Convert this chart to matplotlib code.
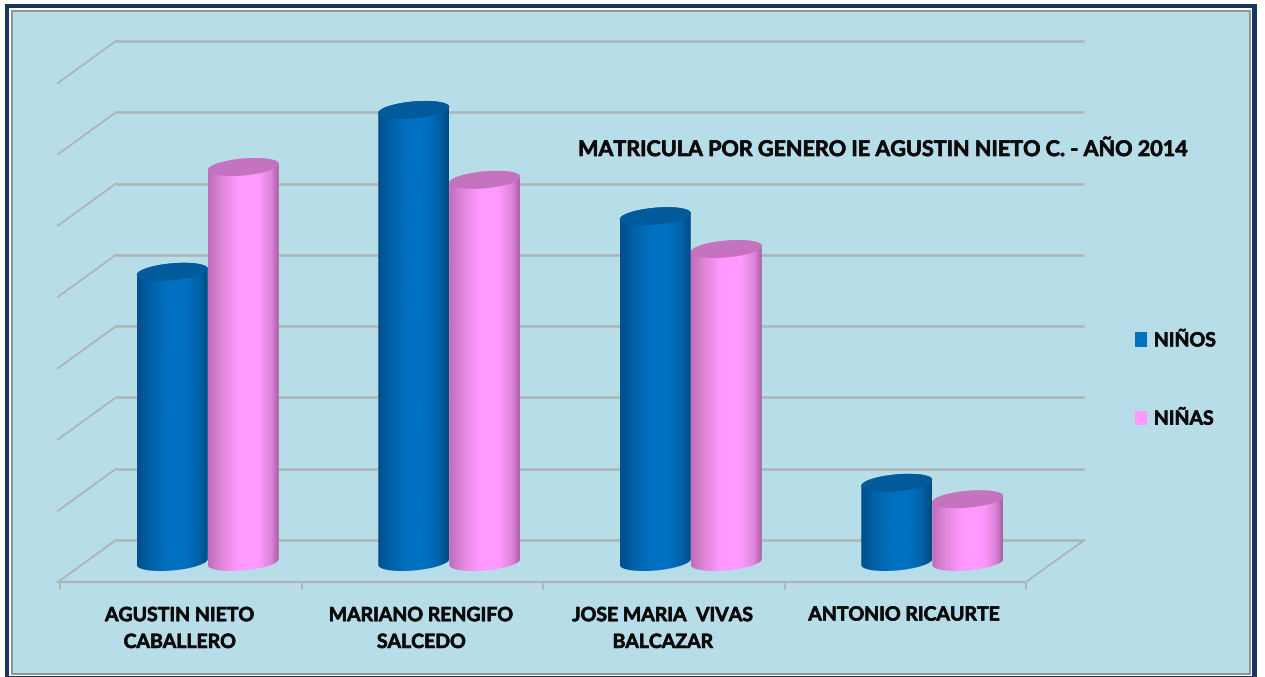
import numpy as np
import matplotlib
matplotlib.use('Agg')
import matplotlib.pyplot as plt
import matplotlib.patheffects as pe
from matplotlib.colors import LinearSegmentedColormap
from matplotlib.patches import Patch, Polygon, Rectangle

categories = ['AGUSTIN NIETO\nCABALLERO', 'MARIANO RENGIFO\nSALCEDO',
              'JOSE MARIA  VIVAS\nBALCAZAR', 'ANTONIO RICAURTE']
ninos = [407, 634, 485, 111]
ninas = [554, 536, 439, 88]
grid_values = [0, 100, 200, 300, 400, 500, 600, 700]

title = 'MATRICULA POR GENERO IE AGUSTIN NIETO C. - AÑO 2014'
FONT = 'Lato'
INK = '#0a0a0a'
BG = '#b7dde8'
GRID = '#aeb4b7'

# escala: 241.5 px por categoria, 0.713 px por unidad
SX = 241.5
SY = 0.713
BAR_W = 71 / SX
BAR_SHIFT = 0.112
BACK_Y = 22 / SY      # piso del fondo respecto a la base de los cilindros
FRONT_Y = -20 / SY    # piso del frente
DEPTH_X = 56 / SX
BOLD = [pe.withStroke(linewidth=0.5, foreground=INK)]


def cylinder(ax, cx, value, cmap, top_color):
    a = BAR_W / 2
    b = 8.5 / SY
    tilt = 3 / SY
    t = np.linspace(0, np.pi, 60)
    xs = cx + a * np.cos(t)
    top = value + b * np.sin(t) + tilt * np.cos(t)
    bottom = -b * np.sin(t) + tilt * np.cos(t)
    body = np.column_stack([np.r_[xs, xs[::-1]], np.r_[top, bottom[::-1]]])
    im = ax.imshow(np.linspace(0, 1, 128).reshape(1, -1), cmap=cmap, aspect='auto',
                   extent=(cx - a, cx + a, -b - tilt, value + b + tilt), zorder=3)
    im.set_clip_path(Polygon(body, closed=True, transform=ax.transData))
    t2 = np.linspace(0, 2 * np.pi, 120)
    cap = np.column_stack([cx + a * np.cos(t2), value + b * np.sin(t2) + tilt * np.cos(t2)])
    ax.add_patch(Polygon(cap, closed=True, fc=top_color, ec='none', zorder=3))


fig = plt.figure(figsize=(12.65, 6.77), dpi=100, facecolor='white')

# marco exterior en pixeles
frame = fig.add_axes([0, 0, 1, 1], zorder=0)
frame.set_xlim(0, 1265)
frame.set_ylim(677, 0)
frame.axis('off')
frame.add_patch(Rectangle((5, 4), 1252, 680, fc='#17375e', ec='none'))
frame.add_patch(Rectangle((9, 8), 1243, 668, fc='white', ec='none'))
frame.add_patch(Rectangle((11.5, 10.5), 1238.5, 663, fc=BG, ec='#8c8c8c', lw=1.3))

ax = fig.add_axes([0, 0, 1, 1], zorder=1)
ax.patch.set_alpha(0)
ax.axis('off')

blue_map = LinearSegmentedColormap.from_list(
    'blue', [(0, '#004f8c'), (0.2, '#0062a8'), (0.42, '#0070c0'), (0.68, '#0070c0'),
             (0.88, '#0060a4'), (1, '#004a80')])
pink_map = LinearSegmentedColormap.from_list(
    'pink', [(0, '#c06cba'), (0.2, '#e288dc'), (0.42, '#ff99ff'), (0.72, '#ff99ff'),
             (0.9, '#dc82d8'), (1, '#ad5fa6')])

# paredes y piso
for v in grid_values:
    y = v + BACK_Y
    ax.plot([DEPTH_X, 4 + DEPTH_X + 0.01], [y, y], color=GRID, lw=1.8, zorder=1,
            solid_capstyle='butt')
    ax.plot([-0.008, DEPTH_X], [y + FRONT_Y - BACK_Y, y], color=GRID, lw=1.4, zorder=1)
ax.plot([-0.008, 4], [FRONT_Y, FRONT_Y], color=GRID, lw=1.6, zorder=2)
ax.plot([4, 4 + DEPTH_X + 0.01], [FRONT_Y, BACK_Y], color=GRID, lw=1.4, zorder=2)
for i in range(len(categories) + 1):
    ax.plot([i, i], [FRONT_Y, FRONT_Y - 10], color=GRID, lw=1.3, zorder=2)

for i, a in enumerate(ninos):
    cylinder(ax, i + 0.5 + BAR_SHIFT - BAR_W / 2, a, blue_map, '#005a9c')
for i, b in enumerate(ninas):
    cylinder(ax, i + 0.5 + BAR_SHIFT + BAR_W / 2, b, pink_map, '#c572bf')

for i, name in enumerate(categories):
    y_px = 629 if '\n' in name else 615
    ax.text(i + 0.497, (562 - y_px) / SY, name, ha='center', va='center', fontsize=14,
            fontweight='bold', family=FONT, color=INK, linespacing=1.7, path_effects=BOLD)

ax.text((883 - 60) / SX, (562 - 149.5) / SY, title, ha='center', va='center',
        fontsize=15.5, fontweight='bold', family=FONT, color=INK, path_effects=BOLD)

handles = [Patch(fc='#0070c0', ec='none'), Patch(fc='#ff99ff', ec='none')]
leg = ax.legend(handles, ['NIÑOS', 'NIÑAS'], loc='center left', frameon=False,
                bbox_to_anchor=(1125 / 1265, 1 - 380 / 677), handlelength=0.62,
                handleheight=0.75, handletextpad=0.36, labelspacing=3.15, borderpad=0,
                prop={'family': FONT, 'weight': 'bold', 'size': 14})
for label in leg.get_texts():
    label.set_color(INK)
    label.set_path_effects(BOLD)

ax.set_xlim(-60 / SX, 1205 / SX)
ax.set_ylim(-115 / SY, 562 / SY)

fig.savefig('out.png', dpi=100)
plt.close(fig)
